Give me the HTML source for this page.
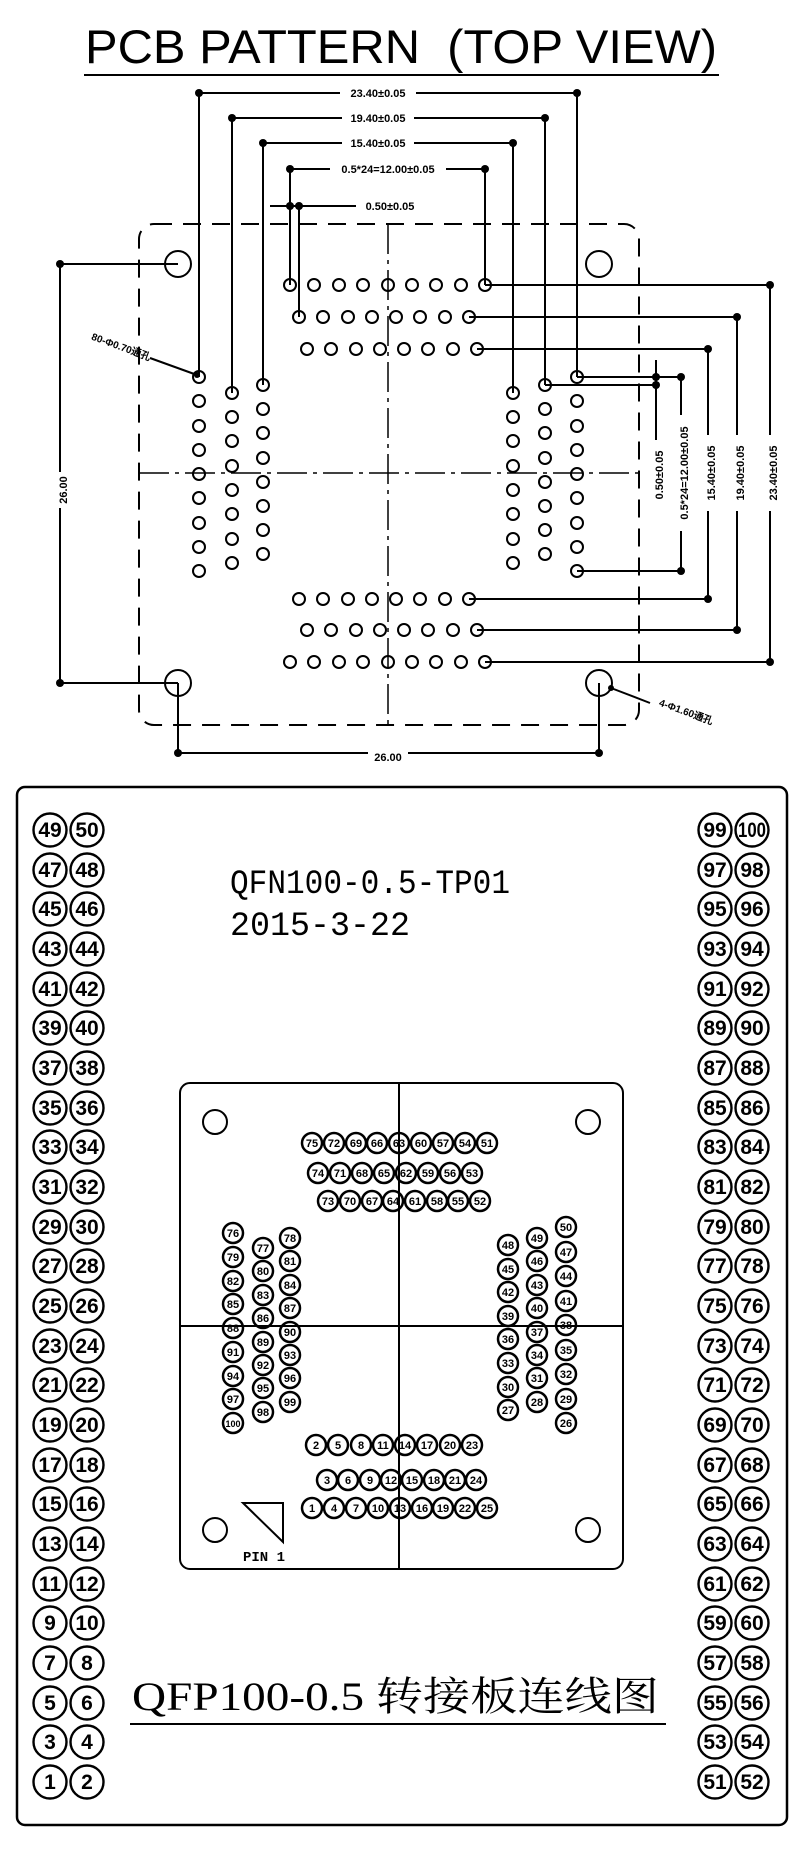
<!DOCTYPE html>
<html><head><meta charset="utf-8"><style>
html,body{margin:0;padding:0;background:#fff}
svg{display:block}
.t{font-family:"Liberation Sans",sans-serif;font-weight:bold}
.m{font-family:"Liberation Mono","DejaVu Sans Mono",monospace}
.s{font-family:"Liberation Serif","Noto Serif CJK SC",serif}
</style></head><body>
<svg width="800" height="1849" viewBox="0 0 800 1849" xmlns="http://www.w3.org/2000/svg">
<g fill="none" stroke="#000">
<line x1="84" y1="75" x2="719" y2="75" stroke-width="2"/>
<rect x="139" y="224" width="500" height="501" rx="15" stroke-width="2" stroke-dasharray="18 11"/>
<line x1="388" y1="224" x2="388" y2="725" stroke-width="1.5" stroke-dasharray="30 6 4 6"/>
<line x1="139" y1="473" x2="639" y2="473" stroke-width="1.5" stroke-dasharray="30 6 4 6"/>
<g stroke-width="2"><circle cx="178" cy="264" r="13"/><circle cx="599" cy="264" r="13"/><circle cx="178" cy="683" r="13"/><circle cx="599" cy="683" r="13"/></g>
<g stroke-width="2">
<polyline points="199,377 199,93 577,93 577,377"/>
<polyline points="232,393 232,118 545,118 545,385"/>
<polyline points="263,385 263,143 513,143 513,393"/>
<polyline points="290,285 290,169 485,169 485,285"/>
<line x1="270" y1="206" x2="356" y2="206"/>
<line x1="290" y1="206" x2="290" y2="285"/><line x1="299" y1="206" x2="299" y2="317"/>
<polyline points="485,285 770,285 770,662 485,662"/>
<polyline points="469,317 737,317 737,630 477,630"/>
<polyline points="477,349 708,349 708,599 469,599"/>
<polyline points="577,377 681,377 681,571 577,571"/>
<line x1="545" y1="385" x2="656" y2="385"/><line x1="630" y1="377" x2="656" y2="377"/>
<line x1="656" y1="360" x2="656" y2="440"/>
<polyline points="178,264 60,264 60,683 178,683"/>
<polyline points="178,683 178,753 599,753 599,683"/>
<line x1="150" y1="358" x2="197" y2="375"/>
<line x1="611" y1="688" x2="650" y2="703"/>
</g>
<g stroke-width="2">
<circle cx="290" cy="285" r="6"/><circle cx="314" cy="285" r="6"/><circle cx="339" cy="285" r="6"/><circle cx="363" cy="285" r="6"/><circle cx="388" cy="285" r="6"/><circle cx="412" cy="285" r="6"/><circle cx="436" cy="285" r="6"/><circle cx="461" cy="285" r="6"/><circle cx="485" cy="285" r="6"/>
<circle cx="299" cy="317" r="6"/><circle cx="323" cy="317" r="6"/><circle cx="348" cy="317" r="6"/><circle cx="372" cy="317" r="6"/><circle cx="396" cy="317" r="6"/><circle cx="420" cy="317" r="6"/><circle cx="445" cy="317" r="6"/><circle cx="469" cy="317" r="6"/>
<circle cx="307" cy="349" r="6"/><circle cx="331" cy="349" r="6"/><circle cx="356" cy="349" r="6"/><circle cx="380" cy="349" r="6"/><circle cx="404" cy="349" r="6"/><circle cx="428" cy="349" r="6"/><circle cx="453" cy="349" r="6"/><circle cx="477" cy="349" r="6"/>
<circle cx="299" cy="599" r="6"/><circle cx="323" cy="599" r="6"/><circle cx="348" cy="599" r="6"/><circle cx="372" cy="599" r="6"/><circle cx="396" cy="599" r="6"/><circle cx="420" cy="599" r="6"/><circle cx="445" cy="599" r="6"/><circle cx="469" cy="599" r="6"/>
<circle cx="307" cy="630" r="6"/><circle cx="331" cy="630" r="6"/><circle cx="356" cy="630" r="6"/><circle cx="380" cy="630" r="6"/><circle cx="404" cy="630" r="6"/><circle cx="428" cy="630" r="6"/><circle cx="453" cy="630" r="6"/><circle cx="477" cy="630" r="6"/>
<circle cx="290" cy="662" r="6"/><circle cx="314" cy="662" r="6"/><circle cx="339" cy="662" r="6"/><circle cx="363" cy="662" r="6"/><circle cx="388" cy="662" r="6"/><circle cx="412" cy="662" r="6"/><circle cx="436" cy="662" r="6"/><circle cx="461" cy="662" r="6"/><circle cx="485" cy="662" r="6"/>
<circle cx="199" cy="377" r="6"/><circle cx="199" cy="401" r="6"/><circle cx="199" cy="426" r="6"/><circle cx="199" cy="450" r="6"/><circle cx="199" cy="474" r="6"/><circle cx="199" cy="498" r="6"/><circle cx="199" cy="523" r="6"/><circle cx="199" cy="547" r="6"/><circle cx="199" cy="571" r="6"/>
<circle cx="232" cy="393" r="6"/><circle cx="232" cy="417" r="6"/><circle cx="232" cy="441" r="6"/><circle cx="232" cy="466" r="6"/><circle cx="232" cy="490" r="6"/><circle cx="232" cy="514" r="6"/><circle cx="232" cy="539" r="6"/><circle cx="232" cy="563" r="6"/>
<circle cx="263" cy="385" r="6"/><circle cx="263" cy="409" r="6"/><circle cx="263" cy="433" r="6"/><circle cx="263" cy="458" r="6"/><circle cx="263" cy="482" r="6"/><circle cx="263" cy="506" r="6"/><circle cx="263" cy="530" r="6"/><circle cx="263" cy="554" r="6"/>
<circle cx="513" cy="393" r="6"/><circle cx="513" cy="417" r="6"/><circle cx="513" cy="441" r="6"/><circle cx="513" cy="466" r="6"/><circle cx="513" cy="490" r="6"/><circle cx="513" cy="514" r="6"/><circle cx="513" cy="539" r="6"/><circle cx="513" cy="563" r="6"/>
<circle cx="545" cy="385" r="6"/><circle cx="545" cy="409" r="6"/><circle cx="545" cy="433" r="6"/><circle cx="545" cy="458" r="6"/><circle cx="545" cy="482" r="6"/><circle cx="545" cy="506" r="6"/><circle cx="545" cy="530" r="6"/><circle cx="545" cy="554" r="6"/>
<circle cx="577" cy="377" r="6"/><circle cx="577" cy="401" r="6"/><circle cx="577" cy="426" r="6"/><circle cx="577" cy="450" r="6"/><circle cx="577" cy="474" r="6"/><circle cx="577" cy="498" r="6"/><circle cx="577" cy="523" r="6"/><circle cx="577" cy="547" r="6"/><circle cx="577" cy="571" r="6"/>
</g>
</g>
<g fill="#000">
<circle cx="199" cy="93" r="4"/><circle cx="577" cy="93" r="4"/><circle cx="232" cy="118" r="4"/><circle cx="545" cy="118" r="4"/>
<circle cx="263" cy="143" r="4"/><circle cx="513" cy="143" r="4"/><circle cx="290" cy="169" r="4"/><circle cx="485" cy="169" r="4"/>
<circle cx="290" cy="206" r="4"/><circle cx="299" cy="206" r="4"/>
<circle cx="770" cy="285" r="4"/><circle cx="770" cy="662" r="4"/><circle cx="737" cy="317" r="4"/><circle cx="737" cy="630" r="4"/>
<circle cx="708" cy="349" r="4"/><circle cx="708" cy="599" r="4"/><circle cx="681" cy="377" r="4"/><circle cx="681" cy="571" r="4"/>
<circle cx="656" cy="377" r="4"/><circle cx="656" cy="385" r="4"/>
<circle cx="60" cy="264" r="4"/><circle cx="60" cy="683" r="4"/><circle cx="178" cy="753" r="4"/><circle cx="599" cy="753" r="4"/>
<circle cx="197" cy="375" r="3"/><circle cx="611" cy="688" r="3"/>
</g>
<g class="t" font-size="11" text-anchor="middle">
<rect x="340" y="86" width="76" height="14" fill="#fff"/><text x="378" y="97">23.40±0.05</text>
<rect x="342" y="111" width="72" height="14" fill="#fff"/><text x="378" y="122">19.40±0.05</text>
<rect x="342" y="136" width="72" height="14" fill="#fff"/><text x="378" y="147">15.40±0.05</text>
<rect x="330" y="162" width="116" height="14" fill="#fff"/><text x="388" y="173">0.5*24=12.00±0.05</text>
<text x="390" y="210">0.50±0.05</text>
<g transform="translate(64,490) rotate(-90)"><rect x="-18" y="-8" width="36" height="12" fill="#fff"/><text x="0" y="3">26.00</text></g>
<g transform="translate(388,757)"><rect x="-20" y="-8" width="40" height="12" fill="#fff"/><text x="0" y="4">26.00</text></g>
<g transform="translate(774,473) rotate(-90)"><rect x="-38" y="-8" width="76" height="12" fill="#fff"/><text x="0" y="3">23.40±0.05</text></g>
<g transform="translate(741,473) rotate(-90)"><rect x="-38" y="-8" width="76" height="12" fill="#fff"/><text x="0" y="3">19.40±0.05</text></g>
<g transform="translate(712,473) rotate(-90)"><rect x="-38" y="-8" width="76" height="12" fill="#fff"/><text x="0" y="3">15.40±0.05</text></g>
<g transform="translate(685,473) rotate(-90)"><rect x="-58" y="-8" width="116" height="12" fill="#fff"/><text x="0" y="3">0.5*24=12.00±0.05</text></g>
<g transform="translate(660,475) rotate(-90)"><text x="0" y="3">0.50±0.05</text></g>
<g transform="translate(120,350) rotate(20)"><text x="0" y="0" font-size="10">80-Φ0.70通孔</text></g>
<g transform="translate(685,715) rotate(20)"><text x="0" y="0" font-size="10">4-Φ1.60通孔</text></g>
</g>
<text x="401" y="63" text-anchor="middle" font-family="Liberation Sans,sans-serif" font-size="47" textLength="632" lengthAdjust="spacingAndGlyphs">PCB PATTERN&#160; (TOP VIEW)</text>

<g fill="none" stroke="#000" stroke-width="2.5">
<rect x="17" y="787" width="770" height="1038" rx="8"/>
<rect x="180" y="1083" width="443" height="486" rx="10" stroke-width="2"/>
<line x1="399" y1="1083" x2="399" y2="1569" stroke-width="2"/>
<line x1="180" y1="1326" x2="623" y2="1326" stroke-width="2"/>
<g stroke-width="2"><circle cx="215" cy="1122" r="12"/><circle cx="588" cy="1122" r="12"/><circle cx="215" cy="1530" r="12"/><circle cx="588" cy="1530" r="12"/></g>
<polygon points="243,1503 283,1503 283,1542" stroke-width="2"/>
<line x1="130" y1="1724" x2="666" y2="1724" stroke-width="2"/>
</g>
<text x="243" y="1561" font-weight="bold" font-size="14" font-family="Liberation Mono,monospace">PIN 1</text>
<text x="230" y="893" class="m" font-size="34" textLength="280" lengthAdjust="spacingAndGlyphs">QFN100-0.5-TP01</text>
<text x="230" y="935" class="m" font-size="34" textLength="180" lengthAdjust="spacingAndGlyphs">2015-3-22</text>
<text x="132" y="1710" class="s" font-size="40" textLength="527" lengthAdjust="spacingAndGlyphs">QFP100-0.5 转接板连线图</text>

<g fill="none" stroke="#000" stroke-width="2.4">
<g id="colL">
<circle cx="50" cy="830" r="16.5"/><circle cx="50" cy="870" r="16.5"/><circle cx="50" cy="909" r="16.5"/><circle cx="50" cy="949" r="16.5"/><circle cx="50" cy="989" r="16.5"/><circle cx="50" cy="1028" r="16.5"/><circle cx="50" cy="1068" r="16.5"/><circle cx="50" cy="1108" r="16.5"/><circle cx="50" cy="1147" r="16.5"/><circle cx="50" cy="1187" r="16.5"/><circle cx="50" cy="1227" r="16.5"/><circle cx="50" cy="1266" r="16.5"/><circle cx="50" cy="1306" r="16.5"/><circle cx="50" cy="1346" r="16.5"/><circle cx="50" cy="1385" r="16.5"/><circle cx="50" cy="1425" r="16.5"/><circle cx="50" cy="1465" r="16.5"/><circle cx="50" cy="1504" r="16.5"/><circle cx="50" cy="1544" r="16.5"/><circle cx="50" cy="1584" r="16.5"/><circle cx="50" cy="1623" r="16.5"/><circle cx="50" cy="1663" r="16.5"/><circle cx="50" cy="1703" r="16.5"/><circle cx="50" cy="1742" r="16.5"/><circle cx="50" cy="1782" r="16.5"/>
</g>
<use href="#colL" x="37"/><use href="#colL" x="665"/><use href="#colL" x="702"/>
</g>
<g font-family="Liberation Sans,sans-serif" font-weight="bold" font-size="21" text-anchor="middle">
<text x="50" y="837">49</text><text x="50" y="877">47</text><text x="50" y="916">45</text><text x="50" y="956">43</text><text x="50" y="996">41</text><text x="50" y="1035">39</text><text x="50" y="1075">37</text><text x="50" y="1115">35</text><text x="50" y="1154">33</text><text x="50" y="1194">31</text><text x="50" y="1234">29</text><text x="50" y="1273">27</text><text x="50" y="1313">25</text><text x="50" y="1353">23</text><text x="50" y="1392">21</text><text x="50" y="1432">19</text><text x="50" y="1472">17</text><text x="50" y="1511">15</text><text x="50" y="1551">13</text><text x="50" y="1591">11</text><text x="50" y="1630">9</text><text x="50" y="1670">7</text><text x="50" y="1710">5</text><text x="50" y="1749">3</text><text x="50" y="1789">1</text>
<text x="87" y="837">50</text><text x="87" y="877">48</text><text x="87" y="916">46</text><text x="87" y="956">44</text><text x="87" y="996">42</text><text x="87" y="1035">40</text><text x="87" y="1075">38</text><text x="87" y="1115">36</text><text x="87" y="1154">34</text><text x="87" y="1194">32</text><text x="87" y="1234">30</text><text x="87" y="1273">28</text><text x="87" y="1313">26</text><text x="87" y="1353">24</text><text x="87" y="1392">22</text><text x="87" y="1432">20</text><text x="87" y="1472">18</text><text x="87" y="1511">16</text><text x="87" y="1551">14</text><text x="87" y="1591">12</text><text x="87" y="1630">10</text><text x="87" y="1670">8</text><text x="87" y="1710">6</text><text x="87" y="1749">4</text><text x="87" y="1789">2</text>
<text x="715" y="837">99</text><text x="715" y="877">97</text><text x="715" y="916">95</text><text x="715" y="956">93</text><text x="715" y="996">91</text><text x="715" y="1035">89</text><text x="715" y="1075">87</text><text x="715" y="1115">85</text><text x="715" y="1154">83</text><text x="715" y="1194">81</text><text x="715" y="1234">79</text><text x="715" y="1273">77</text><text x="715" y="1313">75</text><text x="715" y="1353">73</text><text x="715" y="1392">71</text><text x="715" y="1432">69</text><text x="715" y="1472">67</text><text x="715" y="1511">65</text><text x="715" y="1551">63</text><text x="715" y="1591">61</text><text x="715" y="1630">59</text><text x="715" y="1670">57</text><text x="715" y="1710">55</text><text x="715" y="1749">53</text><text x="715" y="1789">51</text>
<text x="752" y="837" textLength="28" lengthAdjust="spacingAndGlyphs">100</text><text x="752" y="877">98</text><text x="752" y="916">96</text><text x="752" y="956">94</text><text x="752" y="996">92</text><text x="752" y="1035">90</text><text x="752" y="1075">88</text><text x="752" y="1115">86</text><text x="752" y="1154">84</text><text x="752" y="1194">82</text><text x="752" y="1234">80</text><text x="752" y="1273">78</text><text x="752" y="1313">76</text><text x="752" y="1353">74</text><text x="752" y="1392">72</text><text x="752" y="1432">70</text><text x="752" y="1472">68</text><text x="752" y="1511">66</text><text x="752" y="1551">64</text><text x="752" y="1591">62</text><text x="752" y="1630">60</text><text x="752" y="1670">58</text><text x="752" y="1710">56</text><text x="752" y="1749">54</text><text x="752" y="1789">52</text>
</g>

<g fill="none" stroke="#000" stroke-width="2.5">
<circle cx="312" cy="1143" r="10"/><circle cx="334" cy="1143" r="10"/><circle cx="356" cy="1143" r="10"/><circle cx="377" cy="1143" r="10"/><circle cx="399" cy="1143" r="10"/><circle cx="421" cy="1143" r="10"/><circle cx="443" cy="1143" r="10"/><circle cx="465" cy="1143" r="10"/><circle cx="487" cy="1143" r="10"/>
<circle cx="318" cy="1173" r="10"/><circle cx="340" cy="1173" r="10"/><circle cx="362" cy="1173" r="10"/><circle cx="384" cy="1173" r="10"/><circle cx="406" cy="1173" r="10"/><circle cx="428" cy="1173" r="10"/><circle cx="450" cy="1173" r="10"/><circle cx="472" cy="1173" r="10"/>
<circle cx="328" cy="1201" r="10"/><circle cx="350" cy="1201" r="10"/><circle cx="372" cy="1201" r="10"/><circle cx="393" cy="1201" r="10"/><circle cx="415" cy="1201" r="10"/><circle cx="437" cy="1201" r="10"/><circle cx="458" cy="1201" r="10"/><circle cx="480" cy="1201" r="10"/>
<circle cx="316" cy="1445" r="10"/><circle cx="338" cy="1445" r="10"/><circle cx="361" cy="1445" r="10"/><circle cx="383" cy="1445" r="10"/><circle cx="405" cy="1445" r="10"/><circle cx="427" cy="1445" r="10"/><circle cx="450" cy="1445" r="10"/><circle cx="472" cy="1445" r="10"/>
<circle cx="327" cy="1480" r="10"/><circle cx="348" cy="1480" r="10"/><circle cx="370" cy="1480" r="10"/><circle cx="391" cy="1480" r="10"/><circle cx="412" cy="1480" r="10"/><circle cx="434" cy="1480" r="10"/><circle cx="455" cy="1480" r="10"/><circle cx="476" cy="1480" r="10"/>
<circle cx="312" cy="1508" r="10"/><circle cx="334" cy="1508" r="10"/><circle cx="356" cy="1508" r="10"/><circle cx="378" cy="1508" r="10"/><circle cx="400" cy="1508" r="10"/><circle cx="422" cy="1508" r="10"/><circle cx="443" cy="1508" r="10"/><circle cx="465" cy="1508" r="10"/><circle cx="487" cy="1508" r="10"/>
<circle cx="233" cy="1233" r="10"/><circle cx="233" cy="1257" r="10"/><circle cx="233" cy="1281" r="10"/><circle cx="233" cy="1304" r="10"/><circle cx="233" cy="1328" r="10"/><circle cx="233" cy="1352" r="10"/><circle cx="233" cy="1376" r="10"/><circle cx="233" cy="1399" r="10"/><circle cx="233" cy="1423" r="10"/>
<circle cx="263" cy="1248" r="10"/><circle cx="263" cy="1271" r="10"/><circle cx="263" cy="1295" r="10"/><circle cx="263" cy="1318" r="10"/><circle cx="263" cy="1342" r="10"/><circle cx="263" cy="1365" r="10"/><circle cx="263" cy="1388" r="10"/><circle cx="263" cy="1412" r="10"/>
<circle cx="290" cy="1238" r="10"/><circle cx="290" cy="1261" r="10"/><circle cx="290" cy="1285" r="10"/><circle cx="290" cy="1308" r="10"/><circle cx="290" cy="1332" r="10"/><circle cx="290" cy="1355" r="10"/><circle cx="290" cy="1378" r="10"/><circle cx="290" cy="1402" r="10"/>
<circle cx="508" cy="1245" r="10"/><circle cx="508" cy="1269" r="10"/><circle cx="508" cy="1292" r="10"/><circle cx="508" cy="1316" r="10"/><circle cx="508" cy="1339" r="10"/><circle cx="508" cy="1363" r="10"/><circle cx="508" cy="1387" r="10"/><circle cx="508" cy="1410" r="10"/>
<circle cx="537" cy="1238" r="10"/><circle cx="537" cy="1261" r="10"/><circle cx="537" cy="1285" r="10"/><circle cx="537" cy="1308" r="10"/><circle cx="537" cy="1332" r="10"/><circle cx="537" cy="1355" r="10"/><circle cx="537" cy="1378" r="10"/><circle cx="537" cy="1402" r="10"/>
<circle cx="566" cy="1227" r="10"/><circle cx="566" cy="1252" r="10"/><circle cx="566" cy="1276" r="10"/><circle cx="566" cy="1301" r="10"/><circle cx="566" cy="1325" r="10"/><circle cx="566" cy="1350" r="10"/><circle cx="566" cy="1374" r="10"/><circle cx="566" cy="1399" r="10"/><circle cx="566" cy="1423" r="10"/>
</g>
<g font-family="Liberation Sans,sans-serif" font-weight="bold" font-size="11" text-anchor="middle">
<text x="312" y="1147">75</text><text x="334" y="1147">72</text><text x="356" y="1147">69</text><text x="377" y="1147">66</text><text x="399" y="1147">63</text><text x="421" y="1147">60</text><text x="443" y="1147">57</text><text x="465" y="1147">54</text><text x="487" y="1147">51</text>
<text x="318" y="1177">74</text><text x="340" y="1177">71</text><text x="362" y="1177">68</text><text x="384" y="1177">65</text><text x="406" y="1177">62</text><text x="428" y="1177">59</text><text x="450" y="1177">56</text><text x="472" y="1177">53</text>
<text x="328" y="1205">73</text><text x="350" y="1205">70</text><text x="372" y="1205">67</text><text x="393" y="1205">64</text><text x="415" y="1205">61</text><text x="437" y="1205">58</text><text x="458" y="1205">55</text><text x="480" y="1205">52</text>
<text x="316" y="1449">2</text><text x="338" y="1449">5</text><text x="361" y="1449">8</text><text x="383" y="1449">11</text><text x="405" y="1449">14</text><text x="427" y="1449">17</text><text x="450" y="1449">20</text><text x="472" y="1449">23</text>
<text x="327" y="1484">3</text><text x="348" y="1484">6</text><text x="370" y="1484">9</text><text x="391" y="1484">12</text><text x="412" y="1484">15</text><text x="434" y="1484">18</text><text x="455" y="1484">21</text><text x="476" y="1484">24</text>
<text x="312" y="1512">1</text><text x="334" y="1512">4</text><text x="356" y="1512">7</text><text x="378" y="1512">10</text><text x="400" y="1512">13</text><text x="422" y="1512">16</text><text x="443" y="1512">19</text><text x="465" y="1512">22</text><text x="487" y="1512">25</text>
<text x="233" y="1237">76</text><text x="233" y="1261">79</text><text x="233" y="1285">82</text><text x="233" y="1308">85</text><text x="233" y="1332">88</text><text x="233" y="1356">91</text><text x="233" y="1380">94</text><text x="233" y="1403">97</text><text x="233" y="1427" font-size="9">100</text>
<text x="263" y="1252">77</text><text x="263" y="1275">80</text><text x="263" y="1299">83</text><text x="263" y="1322">86</text><text x="263" y="1346">89</text><text x="263" y="1369">92</text><text x="263" y="1392">95</text><text x="263" y="1416">98</text>
<text x="290" y="1242">78</text><text x="290" y="1265">81</text><text x="290" y="1289">84</text><text x="290" y="1312">87</text><text x="290" y="1336">90</text><text x="290" y="1359">93</text><text x="290" y="1382">96</text><text x="290" y="1406">99</text>
<text x="508" y="1249">48</text><text x="508" y="1273">45</text><text x="508" y="1296">42</text><text x="508" y="1320">39</text><text x="508" y="1343">36</text><text x="508" y="1367">33</text><text x="508" y="1391">30</text><text x="508" y="1414">27</text>
<text x="537" y="1242">49</text><text x="537" y="1265">46</text><text x="537" y="1289">43</text><text x="537" y="1312">40</text><text x="537" y="1336">37</text><text x="537" y="1359">34</text><text x="537" y="1382">31</text><text x="537" y="1406">28</text>
<text x="566" y="1231">50</text><text x="566" y="1256">47</text><text x="566" y="1280">44</text><text x="566" y="1305">41</text><text x="566" y="1329">38</text><text x="566" y="1354">35</text><text x="566" y="1378">32</text><text x="566" y="1403">29</text><text x="566" y="1427">26</text>
</g>
</svg>
</body></html>
